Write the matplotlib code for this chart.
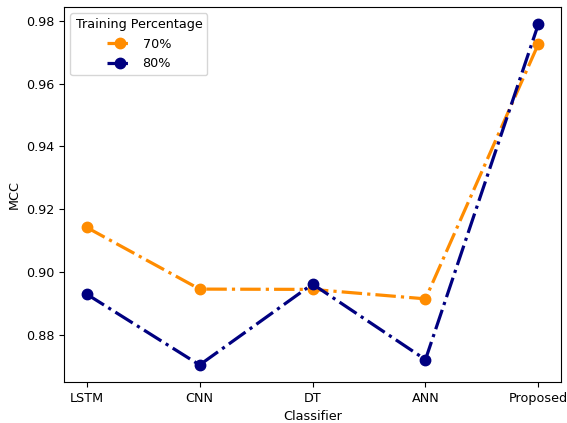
import matplotlib
matplotlib.use("Agg")
import matplotlib.pyplot as plt

classifiers = ["LSTM", "CNN", "DT", "ANN", "Proposed"]
mcc_70 = [0.9143, 0.8947, 0.8946, 0.8916, 0.9726]
mcc_80 = [0.8931, 0.8706, 0.8963, 0.8723, 0.9789]

plt.rcParams["font.size"] = 9.2
fig, ax = plt.subplots(figsize=(5.67, 4.23), dpi=100)
ax.plot(classifiers, mcc_70, linestyle="-.", marker="o", color="darkorange",
        linewidth=2.3, markersize=7.5, label="70%")
ax.plot(classifiers, mcc_80, linestyle="-.", marker="o", color="navy",
        linewidth=2.3, markersize=7.5, label="80%")
ax.set_xlabel("Classifier")
ax.set_ylabel("MCC")
ax.legend(title="Training Percentage", loc="upper left")
fig.subplots_adjust(left=0.113, right=0.9894, top=0.9835, bottom=0.0969)
fig.savefig("out.png", dpi=100)
